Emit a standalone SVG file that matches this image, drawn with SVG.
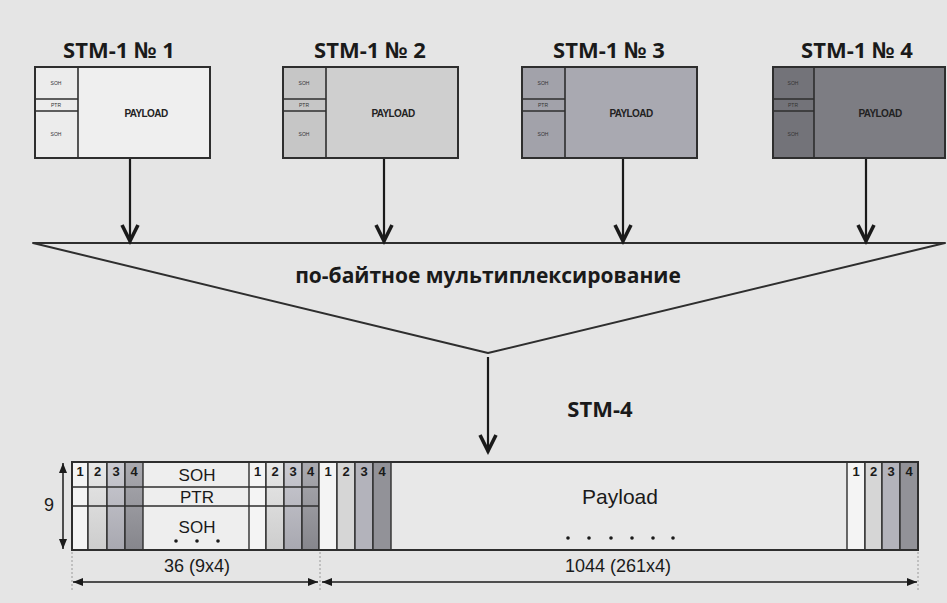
<svg xmlns="http://www.w3.org/2000/svg" width="947" height="603" viewBox="0 0 947 603">
  <defs>
    <style>
      .title { font-family: "Open Sans", "DejaVu Sans", sans-serif; font-weight: 700; font-size: 22px; fill: #1a1a1a; text-anchor: middle; }
      .mux { font-family: "Open Sans", "DejaVu Sans", sans-serif; font-weight: 700; font-size: 21px; fill: #1a1a1a; text-anchor: middle; }
      .tiny { font-family: "Liberation Sans", Arial, sans-serif; font-size: 5px; fill: #333; text-anchor: middle; }
      .pl { font-family: "Liberation Sans", Arial, sans-serif; font-weight: 700; font-size: 10px; fill: #222; text-anchor: middle; letter-spacing: -0.6px; }
      .lbl { font-family: "Liberation Sans", Arial, sans-serif; font-size: 17px; fill: #1a1a1a; text-anchor: middle; }
      .num { font-family: "Liberation Sans", Arial, sans-serif; font-weight: 700; font-size: 13px; fill: #1a1a1a; text-anchor: middle; }
      .dim { font-family: "Liberation Sans", Arial, sans-serif; font-size: 18px; fill: #1a1a1a; text-anchor: middle; }
      .box { stroke: #2e2e2e; stroke-width: 2; }
      .edge { stroke: #2e2e2e; stroke-width: 1.6; fill: none; }
      .conn { stroke: #1a1a1a; stroke-width: 2.2; fill: none; }
      .ext { stroke: #9a9a9a; stroke-width: 1; stroke-dasharray: 2 2; }
      .cell { stroke: #2e2e2e; stroke-width: 1.4; }
      .c1 { fill: #f4f4f4; }
      .c2 { fill: #d6d6d6; }
      .c3 { fill: #b3b3bb; }
      .c4 { fill: #929298; }
    </style>
    <!-- thick open V head for the flow arrows -->
    <marker id="vhead" viewBox="-22 -11 24 22" refX="0" refY="0" markerWidth="24" markerHeight="22" markerUnits="userSpaceOnUse" orient="auto">
      <path d="M-18,-8 L-2,0 L-18,8" fill="none" stroke="#1a1a1a" stroke-width="3.6" stroke-linejoin="miter" stroke-miterlimit="10"/>
    </marker>
    <!-- small solid head for dimension lines -->
    <marker id="tri" viewBox="0 0 10 10" refX="10" refY="5" markerWidth="10" markerHeight="10" markerUnits="userSpaceOnUse" orient="auto-start-reverse">
      <path d="M0,1 L10,5 L0,9 Z" fill="#1a1a1a"/>
    </marker>
    <linearGradient id="g2" x1="0" y1="0" x2="0" y2="1">
      <stop offset="0" stop-color="#e8e8e8"/>
      <stop offset="1" stop-color="#cdcdcd"/>
    </linearGradient>
    <linearGradient id="g3" x1="0" y1="0" x2="0" y2="1">
      <stop offset="0" stop-color="#cbcbd2"/>
      <stop offset="1" stop-color="#a8a8b0"/>
    </linearGradient>
    <linearGradient id="g4" x1="0" y1="0" x2="0" y2="1">
      <stop offset="0" stop-color="#aaaab0"/>
      <stop offset="1" stop-color="#86868c"/>
    </linearGradient>
  </defs>

  <rect x="0" y="0" width="947" height="603" fill="#e5e5e5"/>

  <!-- STM-1 source frames -->
  <g id="stm1-1">
    <text class="title" x="119" y="58">STM-1 № 1</text>
    <rect x="35" y="67" width="175" height="91" fill="#efefef"/>
    <rect x="35" y="67" width="43" height="91" fill="#ececec"/>
    <line class="edge" x1="78" y1="67" x2="78" y2="158"/>
    <line class="edge" x1="35" y1="99" x2="78" y2="99"/>
    <line class="edge" x1="35" y1="111" x2="78" y2="111"/>
    <rect x="35" y="67" width="175" height="91" fill="none" class="box"/>
    <text class="tiny" x="56" y="85">SOH</text>
    <text class="tiny" x="56" y="107">PTR</text>
    <text class="tiny" x="56" y="136">SOH</text>
    <text class="pl" x="146" y="117">PAYLOAD</text>
  </g>

  <g id="stm1-2">
    <text class="title" x="370" y="58">STM-1 № 2</text>
    <rect x="283" y="67" width="175" height="91" fill="#cfcfcf"/>
    <rect x="283" y="67" width="43" height="91" fill="#c6c6c6"/>
    <line class="edge" x1="326" y1="67" x2="326" y2="158"/>
    <line class="edge" x1="283" y1="99" x2="326" y2="99"/>
    <line class="edge" x1="283" y1="111" x2="326" y2="111"/>
    <rect x="283" y="67" width="175" height="91" fill="none" class="box"/>
    <text class="tiny" x="304" y="85">SOH</text>
    <text class="tiny" x="304" y="107">PTR</text>
    <text class="tiny" x="304" y="136">SOH</text>
    <text class="pl" x="393" y="117">PAYLOAD</text>
  </g>

  <g id="stm1-3">
    <text class="title" x="609" y="58">STM-1 № 3</text>
    <rect x="522" y="67" width="175" height="91" fill="#a9a9b1"/>
    <rect x="522" y="67" width="43" height="91" fill="#a2a2aa"/>
    <line class="edge" x1="565" y1="67" x2="565" y2="158"/>
    <line class="edge" x1="522" y1="99" x2="565" y2="99"/>
    <line class="edge" x1="522" y1="111" x2="565" y2="111"/>
    <rect x="522" y="67" width="175" height="91" fill="none" class="box"/>
    <text class="tiny" x="543" y="85">SOH</text>
    <text class="tiny" x="543" y="107">PTR</text>
    <text class="tiny" x="543" y="136">SOH</text>
    <text class="pl" x="631" y="117">PAYLOAD</text>
  </g>

  <g id="stm1-4">
    <text class="title" x="857" y="58">STM-1 № 4</text>
    <rect x="773" y="67" width="172" height="91" fill="#7d7d83"/>
    <rect x="773" y="67" width="41" height="91" fill="#737379"/>
    <line class="edge" x1="814" y1="67" x2="814" y2="158"/>
    <line class="edge" x1="773" y1="99" x2="814" y2="99"/>
    <line class="edge" x1="773" y1="111" x2="814" y2="111"/>
    <rect x="773" y="67" width="172" height="91" fill="none" class="box"/>
    <text class="tiny" x="793" y="85">SOH</text>
    <text class="tiny" x="793" y="107">PTR</text>
    <text class="tiny" x="793" y="136">SOH</text>
    <text class="pl" x="880" y="117">PAYLOAD</text>
  </g>

  <!-- byte-interleaving funnel -->
  <g id="mux">
    <polygon points="33,243 945,243 488,353" fill="none" stroke="#2e2e2e" stroke-width="2" stroke-linejoin="round"/>
    <text class="mux" x="488" y="283">по-байтное мультиплексирование</text>
  </g>

  <!-- STM-4 output frame -->
  <g id="stm4">
    <text class="title" x="600" y="417">STM-4</text>
    <rect x="72" y="462" width="846" height="88" fill="#e8e8e8"/>
    <rect x="143" y="462" width="106" height="88" fill="#eeeeee"/>

    <!-- overhead columns, first set -->
    <rect class="cell c1" x="72" y="462" width="16" height="88"/>
    <rect class="cell" x="88" y="462" width="19" height="88" fill="url(#g2)"/>
    <rect class="cell" x="107" y="462" width="18" height="88" fill="url(#g3)"/>
    <rect class="cell" x="125" y="462" width="18" height="88" fill="url(#g4)"/>
    <!-- overhead columns, last set -->
    <rect class="cell c1" x="249" y="462" width="17" height="88"/>
    <rect class="cell" x="266" y="462" width="18" height="88" fill="url(#g2)"/>
    <rect class="cell" x="284" y="462" width="18" height="88" fill="url(#g3)"/>
    <rect class="cell" x="302" y="462" width="17" height="88" fill="url(#g4)"/>
    <!-- payload columns, first set -->
    <rect class="cell c1" x="319" y="462" width="18" height="88"/>
    <rect class="cell c2" x="337" y="462" width="18" height="88"/>
    <rect class="cell c3" x="355" y="462" width="18" height="88"/>
    <rect class="cell c4" x="373" y="462" width="18" height="88"/>
    <!-- payload columns, last set -->
    <rect class="cell c1" x="847" y="462" width="18" height="88"/>
    <rect class="cell c2" x="865" y="462" width="17" height="88"/>
    <rect class="cell c3" x="882" y="462" width="18" height="88"/>
    <rect class="cell c4" x="900" y="462" width="18" height="88"/>

    <!-- overhead rows -->
    <line class="cell" x1="72" y1="487" x2="319" y2="487"/>
    <line class="cell" x1="72" y1="506" x2="319" y2="506"/>

    <rect x="72" y="462" width="846" height="88" fill="none" stroke="#2e2e2e" stroke-width="2"/>

    <text class="num" x="80" y="476">1</text>
    <text class="num" x="97.5" y="476">2</text>
    <text class="num" x="116" y="476">3</text>
    <text class="num" x="134" y="476">4</text>
    <text class="num" x="257.5" y="476">1</text>
    <text class="num" x="275" y="476">2</text>
    <text class="num" x="293" y="476">3</text>
    <text class="num" x="310.5" y="476">4</text>
    <text class="num" x="328" y="476">1</text>
    <text class="num" x="346" y="476">2</text>
    <text class="num" x="364" y="476">3</text>
    <text class="num" x="382" y="476">4</text>
    <text class="num" x="856" y="476">1</text>
    <text class="num" x="873.5" y="476">2</text>
    <text class="num" x="891" y="476">3</text>
    <text class="num" x="909" y="476">4</text>

    <text class="lbl" x="197" y="481">SOH</text>
    <text class="lbl" x="197" y="503">PTR</text>
    <text class="lbl" x="197" y="533">SOH</text>
    <g fill="#1a1a1a">
      <circle cx="176" cy="541" r="1.8"/>
      <circle cx="197" cy="541" r="1.8"/>
      <circle cx="218" cy="541" r="1.8"/>
    </g>

    <text x="620" y="504" font-family="Liberation Sans, Arial, sans-serif" font-size="21" fill="#1a1a1a" text-anchor="middle">Payload</text>
    <g fill="#1a1a1a">
      <circle cx="568" cy="538" r="1.8"/>
      <circle cx="589" cy="538" r="1.8"/>
      <circle cx="611" cy="538" r="1.8"/>
      <circle cx="632" cy="538" r="1.8"/>
      <circle cx="653" cy="538" r="1.8"/>
      <circle cx="673" cy="538" r="1.8"/>
    </g>

    <!-- dimensions -->
    <text class="dim" x="49" y="511">9</text>
    <text class="dim" x="197" y="572">36 (9x4)</text>
    <text class="dim" x="618" y="572">1044 (261x4)</text>
  </g>

  <!-- connectors -->
  <g id="connectors">
    <line class="conn" x1="130" y1="159" x2="130" y2="243" marker-end="url(#vhead)"/>
    <line class="conn" x1="384" y1="159" x2="384" y2="243" marker-end="url(#vhead)"/>
    <line class="conn" x1="623" y1="159" x2="623" y2="243" marker-end="url(#vhead)"/>
    <line class="conn" x1="866" y1="159" x2="866" y2="243" marker-end="url(#vhead)"/>
    <line class="conn" x1="488" y1="357" x2="488" y2="453" marker-end="url(#vhead)"/>

    <line class="ext" x1="72" y1="552" x2="72" y2="590"/>
    <line class="ext" x1="320" y1="552" x2="320" y2="590"/>
    <line class="ext" x1="918" y1="552" x2="918" y2="590"/>

    <line x1="63" y1="463" x2="63" y2="549" stroke="#1a1a1a" stroke-width="1.5" marker-start="url(#tri)" marker-end="url(#tri)"/>
    <line x1="73" y1="582" x2="318" y2="582" stroke="#1a1a1a" stroke-width="1.5" marker-start="url(#tri)" marker-end="url(#tri)"/>
    <line x1="322" y1="582" x2="917" y2="582" stroke="#1a1a1a" stroke-width="1.5" marker-start="url(#tri)" marker-end="url(#tri)"/>
  </g>
</svg>
